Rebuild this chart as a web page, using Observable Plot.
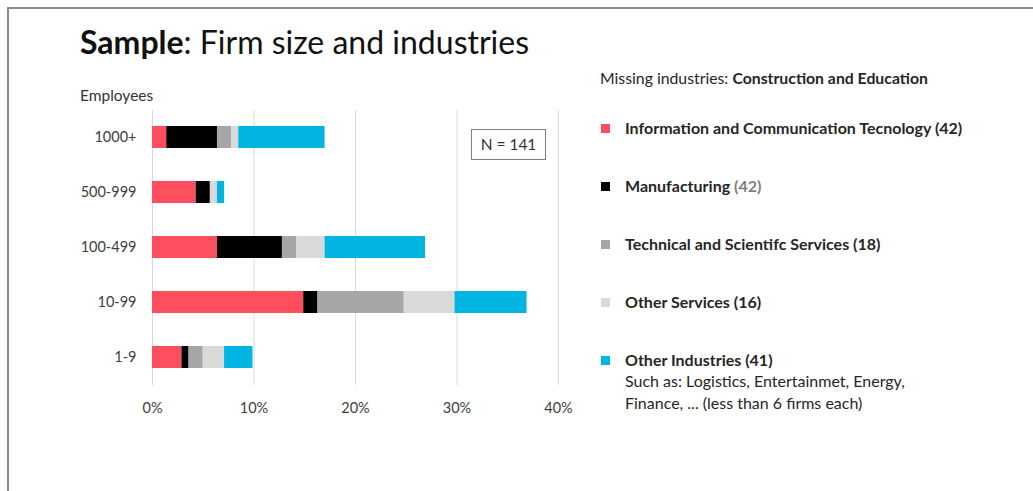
<!DOCTYPE html>
<html>
<head>
<meta charset="utf-8">
<script src="https://cdn.jsdelivr.net/npm/d3@7"></script>
<script src="https://cdn.jsdelivr.net/npm/@observablehq/plot@0.6"></script>
<style>
  html, body { margin: 0; padding: 0; background: #fff; }
  body { width: 1033px; height: 491px; position: relative; overflow: hidden; font-family: Lato, "Open Sans", sans-serif; color: #262626; }
  .frame { position: absolute; left: 7px; top: 7px; width: 1100px; height: 600px; border-left: 2px solid #8a8a8a; border-top: 2px solid #8a8a8a; }
  .abs { position: absolute; white-space: nowrap; line-height: 1; }
  #title { left: 80px; top: 26px; font-size: 32px; color: #111; }
  #emp { left: 80px; top: 88px; font-size: 15.5px; color: #333; }
  #nbox { left: 471px; top: 129px; width: 73px; height: 29px; border: 1px solid #7f7f7f; font-size: 15.5px; display: flex; align-items: center; justify-content: center; color: #333; }
  #missing { left: 600px; top: 70px; font-size: 15.8px; }
  .item { position: absolute; left: 601px; font-size: 16px; line-height: 1; }
  .sw { position: absolute; left: 0; top: 3px; width: 9px; height: 9px; }
  .lab { position: absolute; left: 24px; top: -1px; font-weight: bold; white-space: nowrap; }
  .sub { font-weight: normal; display: block; margin-top: 2px; line-height: 22px; }
  #chart { position: absolute; left: 0; top: 0; }
</style>
</head>
<body>
<div class="frame"></div>
<div id="chart"></div>
<div class="abs" id="title"><b>Sample</b>: Firm size and industries</div>
<div class="abs" id="emp">Employees</div>
<div class="abs" id="nbox">N = 141</div>
<div class="abs" id="missing">Missing industries: <b>Construction and Education</b></div>
<div id="legend"></div>
<script>
// Firm size categories (top to bottom)
const sizes = ["1000+", "500-999", "100-499", "10-99", "1-9"];
// Industry names and legend labels
const industries = ["Information and Communication Tecnology", "Manufacturing", "Technical and Scientifc Services", "Other Services", "Other Industries"];
const industryCounts = ["(42)", "(42)", "(18)", "(16)", "(41)"];
const industryColors = ["#ff4f5e", "#000000", "#a6a6a6", "#d9d9d9", "#00b5e2"];
// Share of all firms (%) per size class
const ict = [1.4, 4.3, 6.4, 14.9, 2.9];
const manufacturing = [5.0, 1.4, 6.4, 1.4, 0.7];
const technical = [1.4, 0.0, 1.4, 8.5, 1.4];
const otherServices = [0.7, 0.7, 2.8, 5.0, 2.1];
const otherIndustries = [8.5, 0.7, 9.9, 7.1, 2.8];
const xTicks = [0, 10, 20, 30, 40];

const series = [ict, manufacturing, technical, otherServices, otherIndustries];
const rows = [];
sizes.forEach((s, i) => series.forEach((vals, j) => rows.push({size: s, industry: industries[j], value: vals[i]})));

const plot = Plot.plot({
  width: 1033,
  height: 491,
  marginLeft: 152,
  marginRight: 475,
  marginTop: 110,
  marginBottom: 106,
  style: {fontFamily: "Lato, 'Open Sans', sans-serif", fontSize: "14.5px", background: "transparent", color: "#595959"},
  x: {domain: [0, 40], ticks: xTicks, tickFormat: d => d + "%", label: null, tickSize: 0, tickPadding: 17},
  y: {domain: sizes, paddingInner: 0.6, paddingOuter: 0.3, label: null, tickSize: 0, tickPadding: 16},
  color: {domain: industries, range: industryColors},
  marks: [
    Plot.ruleX(xTicks, {stroke: "#d9d9d9", strokeWidth: 1}),
    Plot.barX(rows, Plot.stackX({y: "size", x: "value", fill: "industry", order: industries})),
    Plot.axisX({ticks: xTicks, tickFormat: d => d + "%", tickSize: 0, tickPadding: 17, label: null, fill: "#404040"}),
    Plot.axisY({tickSize: 0, tickPadding: 16, label: null, fill: "#404040"})
  ]
});
document.getElementById("chart").appendChild(plot);

const tops = [121, 179, 237, 295, 353];
const legend = document.getElementById("legend");
industries.forEach((name, i) => {
  const it = document.createElement("div");
  it.className = "item";
  it.style.top = tops[i] + "px";
  const sw = document.createElement("div");
  sw.className = "sw";
  sw.style.background = industryColors[i];
  it.appendChild(sw);
  const lab = document.createElement("div");
  lab.className = "lab";
  const cnt = i === 1 ? `<span style="color:#7f7f7f">${industryCounts[i]}</span>` : industryCounts[i];
  lab.innerHTML = name + " " + cnt + (i === 4 ? '<span class="sub">Such as: Logistics, Entertainmet, Energy,<br>Finance, ... (less than 6 firms each)</span>' : "");
  it.appendChild(lab);
  legend.appendChild(it);
});
</script>
</body>
</html>
